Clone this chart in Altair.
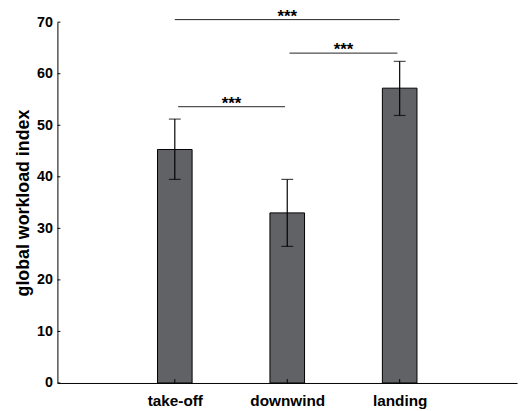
import altair as alt
import pandas as pd

categories = ["take-off", "downwind", "landing"]
positions = [1, 2, 3]
means = [45.3, 33.0, 57.2]
err_low = [39.5, 26.5, 51.9]
err_high = [51.2, 39.5, 62.4]

sig_x1 = [1.0, 2.02, 1.03]
sig_x2 = [3.0, 2.98, 1.98]
sig_y = [70.5, 64.0, 53.6]
sig_label = ["***", "***", "***"]

y_ticks = [0, 10, 20, 30, 40, 50, 60, 70]

bars_df = pd.DataFrame({"pos": positions, "cat": categories, "mean": means,
                        "lo": err_low, "hi": err_high})
sig_df = pd.DataFrame({"x1": sig_x1, "x2": sig_x2, "y": sig_y, "label": sig_label})
sig_df["xm"] = (sig_df["x1"] + sig_df["x2"]) / 2
yt_df = pd.DataFrame({"v": y_ticks})

label_expr = "datum.value == 1 ? 'take-off' : datum.value == 2 ? 'downwind' : datum.value == 3 ? 'landing' : ''"

xscale = alt.Scale(domain=[0, 4], nice=False, zero=False)
yscale = alt.Scale(domain=[0, 70], nice=False)

x_enc = alt.X("pos:Q", scale=xscale, axis=alt.Axis(
    values=[1, 2, 3], labelExpr=label_expr, title=None, grid=False,
    ticks=False, labelFontSize=15.5, labelFontWeight="bold", labelColor="black",
    labelPadding=11, domainColor="black", labelFont="Liberation Sans"))
y_enc = alt.Y("mean:Q", scale=yscale, axis=alt.Axis(
    values=y_ticks, title="global workload index", grid=False, ticks=False,
    labelFontSize=14.5, labelFontWeight="bold", labelColor="black", labelPadding=5,
    titleFontSize=18, titleFontWeight="bold", titleColor="black", titlePadding=4,
    domainColor="black", labelFont="Liberation Sans", titleFont="Liberation Sans"))

bars = alt.Chart(bars_df).mark_bar(size=35, color="#616266", stroke="black",
                                    strokeWidth=1).encode(x=x_enc, y=y_enc)

err = alt.Chart(bars_df).mark_rule(color="black", strokeWidth=1.2).encode(
    x=alt.X("pos:Q", scale=xscale), y=alt.Y("lo:Q", scale=yscale), y2="hi:Q")
cap_hi = alt.Chart(bars_df).mark_tick(orient="horizontal", size=12, thickness=1.2,
                                      color="black").encode(
    x=alt.X("pos:Q", scale=xscale), y=alt.Y("hi:Q", scale=yscale))
cap_lo = alt.Chart(bars_df).mark_tick(orient="horizontal", size=12, thickness=1.2,
                                      color="black").encode(
    x=alt.X("pos:Q", scale=xscale), y=alt.Y("lo:Q", scale=yscale))

xticks = alt.Chart(bars_df).mark_rule(color="black", strokeWidth=1).encode(
    x=alt.X("pos:Q", scale=xscale), y=alt.value(365), y2=alt.value(361))
yticks = alt.Chart(yt_df).mark_rule(color="black", strokeWidth=1).encode(
    y=alt.Y("v:Q", scale=yscale), x=alt.value(0), x2=alt.value(3))

sig_lines = alt.Chart(sig_df).mark_rule(color="#222222", strokeWidth=1).encode(
    x=alt.X("x1:Q", scale=xscale), x2="x2:Q", y=alt.Y("y:Q", scale=yscale))
sig_text = alt.Chart(sig_df).mark_text(fontSize=17, fontWeight="bold", dy=-3,
                                       color="black", font="Liberation Sans").encode(
    x=alt.X("xm:Q", scale=xscale), y=alt.Y("y:Q", scale=yscale), text="label:N")

chart = alt.layer(bars, err, cap_hi, cap_lo, xticks, yticks, sig_lines, sig_text).properties(
    width=465, height=365,
    autosize=alt.AutoSizeParams(type="none"),
    padding={"left": 50, "top": 12, "right": 5, "bottom": 26},
    background="white",
).configure_view(stroke=None)

chart.save("out.html", embed_options={"renderer": "svg", "actions": False})
